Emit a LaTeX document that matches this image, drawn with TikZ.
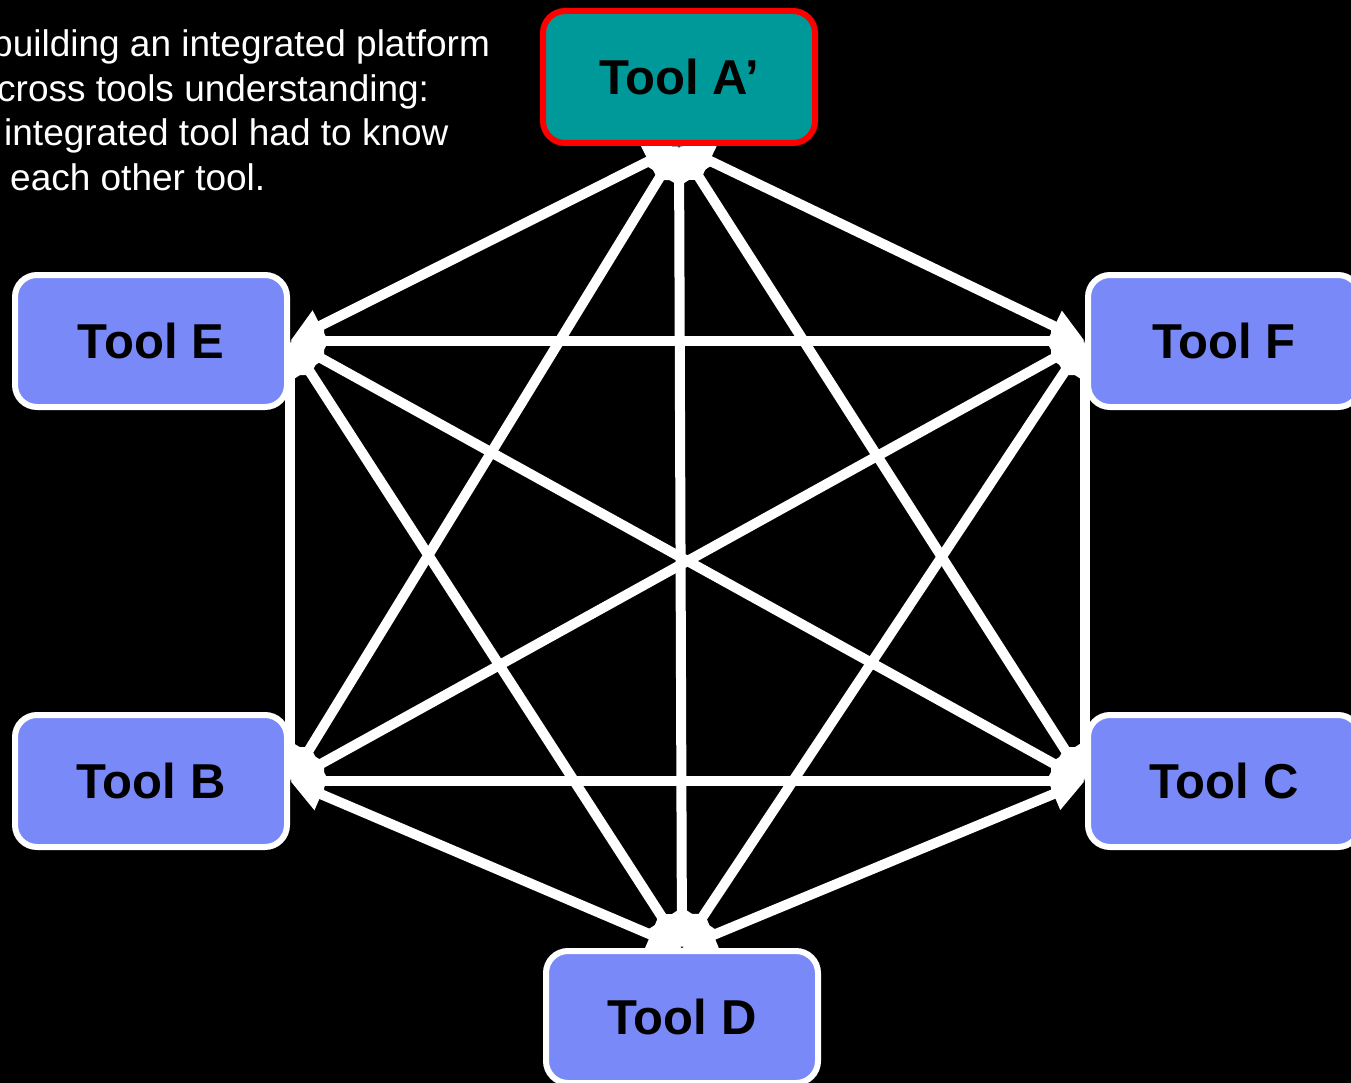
\documentclass[tikz,border=0pt]{standalone}
\usepackage{fontspec}
\setmainfont{Liberation Sans}
\usetikzlibrary{arrows.meta}
\definecolor{toolblue}{HTML}{7A89F8}
\definecolor{toolteal}{HTML}{009999}
\pgfdeclarelayer{back}
\pgfdeclarelayer{lines}
\pgfsetlayers{back,lines,main}
\begin{document}
\begin{tikzpicture}[x=1pt,y=-1pt,
  tool/.style={rounded corners=22pt, minimum width=272pt, minimum height=132pt,
    line width=6pt, draw=white, fill=toolblue, text=black,
    font=\bfseries\fontsize{49}{58}\selectfont, inner sep=0pt},
  link/.style={draw=white, line width=10pt,
    {Triangle[length=34pt,width=32pt]}-{Triangle[length=34pt,width=32pt]}},
  note/.style={anchor=base west, text=white, inner sep=0pt,
    font=\fontsize{37}{44}\selectfont}]
\begin{pgfonlayer}{back}
\fill[black] (0,0) rectangle (1351,1083);
\end{pgfonlayer}
\useasboundingbox (0,0) rectangle (1351,1083);

\node[tool, draw=red, fill=toolteal] (A) at (679,77) {Tool A’};
\node[tool] (E) at (151,341) {Tool E};
\node[tool] (F) at (1224,341) {Tool F};
\node[tool] (B) at (151,781) {Tool B};
\node[tool] (C) at (1224,781) {Tool C};
\node[tool] (D) at (682,1017) {Tool D};

\node[note] (t1) at (-8,57) {building an integrated platform};
\node[note] (t2) at (-3,102) {cross tools understanding:};
\node[note] (t3) at (4,146) {integrated tool had to know};
\node[note] (t4) at (10,191) {each other tool.};

\begin{pgfonlayer}{lines}
\draw[link] (A.south) -- (E.east);
\draw[link] (A.south) -- (F.west);
\draw[link] (A.south) -- (B.east);
\draw[link] (A.south) -- (C.west);
\draw[link] (A.south) -- (D.north);
\draw[link] (E.east) -- (F.west);
\draw[link] (E.east) -- (B.east);
\draw[link] (E.east) -- (C.west);
\draw[link] (E.east) -- (D.north);
\draw[link] (F.west) -- (B.east);
\draw[link] (F.west) -- (C.west);
\draw[link] (F.west) -- (D.north);
\draw[link] (B.east) -- (C.west);
\draw[link] (B.east) -- (D.north);
\draw[link] (C.west) -- (D.north);
\end{pgfonlayer}
\end{tikzpicture}
\end{document}
